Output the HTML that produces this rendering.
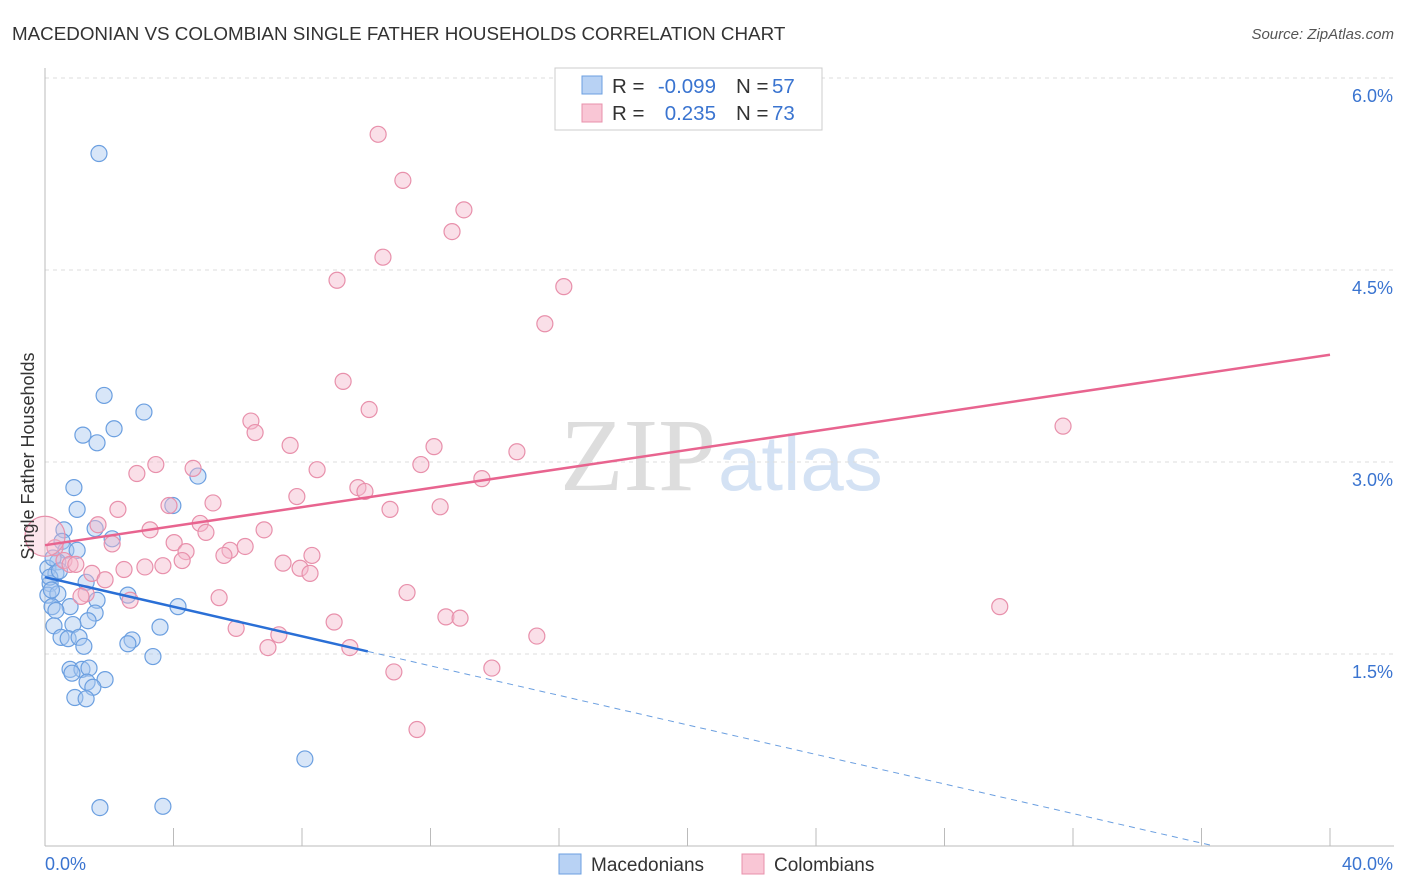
<!DOCTYPE html>
<html><head><meta charset="utf-8"><style>
body{margin:0;background:#fff;font-family:"Liberation Sans",sans-serif}
svg{display:block}
</style></head><body>
<svg id="chart" width="1406" height="892">
<text x="12" y="40" font-size="18.8" fill="#333">MACEDONIAN VS COLOMBIAN SINGLE FATHER HOUSEHOLDS CORRELATION CHART</text>
<text x="1394" y="39" font-size="15" fill="#555" font-style="italic" text-anchor="end">Source: ZipAtlas.com</text>
<text x="716" y="490" font-size="104" fill="#ddd" font-family="Liberation Serif,serif" text-anchor="end">ZIP</text>
<text x="718" y="490" font-size="78" fill="#d4e2f4">atlas</text>
<g id="grid"></g><g id="axes"></g><g id="pts"></g><g id="trends"></g>
<text transform="translate(34,456) rotate(-90)" font-size="18" fill="#333" text-anchor="middle">Single Father Households</text>
<g>
<rect x="555" y="68" width="267" height="62" fill="#fff" stroke="#ccc"/>
<rect x="582" y="76" width="20" height="18" fill="#b8d2f4" stroke="#6b9fe0"/>
<rect x="582" y="104" width="20" height="18" fill="#f9c6d5" stroke="#e890ab"/>
<g font-size="20.5">
<text x="612" y="93" fill="#333">R =</text>
<text x="716" y="93" fill="#3a74d0" text-anchor="end">-0.099</text>
<text x="736" y="93" fill="#333">N =</text>
<text x="772" y="93" fill="#3a74d0">57</text>
<text x="612" y="120" fill="#333">R =</text>
<text x="716" y="120" fill="#3a74d0" text-anchor="end">0.235</text>
<text x="736" y="120" fill="#333">N =</text>
<text x="772" y="120" fill="#3a74d0">73</text>
</g>
</g>
<g>
<rect x="559" y="854" width="22" height="20" fill="#b8d2f4" stroke="#6b9fe0"/>
<text x="591" y="871" font-size="19" fill="#333">Macedonians</text>
<rect x="742" y="854" width="22" height="20" fill="#f9c6d5" stroke="#e890ab"/>
<text x="774" y="871" font-size="19" fill="#333">Colombians</text>
</g>
</svg>
<script>
const yTicks=[1.5,3.0,4.5,6.0];
const xTickLabels=["0.0%","40.0%"];
const blueX=[1.68,1.84,3.08,1.18,2.15,1.62,0.90,4.76,3.98,1.00,0.59,1.56,2.09,0.53,0.65,1.00,0.40,0.09,0.34,0.16,1.28,0.09,0.40,2.58,1.62,0.22,0.78,4.14,1.56,0.34,1.34,0.28,0.87,3.58,0.50,0.72,1.06,1.21,2.71,2.58,3.36,0.78,1.15,1.37,0.84,1.87,1.31,1.49,0.93,1.28,8.09,1.71,3.67,0.15,0.25,0.45,0.20];
const blueY=[5.41,3.52,3.39,3.21,3.26,3.15,2.80,2.89,2.66,2.63,2.47,2.48,2.40,2.38,2.31,2.31,2.22,2.17,2.13,2.05,2.06,1.96,1.97,1.96,1.92,1.87,1.87,1.87,1.82,1.84,1.76,1.72,1.73,1.71,1.63,1.62,1.63,1.56,1.61,1.58,1.48,1.38,1.38,1.39,1.35,1.30,1.28,1.24,1.16,1.15,0.68,0.30,0.31,2.10,2.25,2.15,2.00];
const pinkX=[10.37,11.14,13.04,12.67,10.52,9.09,16.15,15.56,9.28,10.09,6.41,6.54,7.63,12.11,14.69,31.69,3.45,11.70,4.61,8.47,2.86,13.60,9.74,9.96,7.84,5.23,3.86,12.30,10.74,2.27,4.83,1.65,3.27,5.01,6.82,4.02,2.09,4.39,5.76,6.23,0.31,5.57,8.31,0.59,0.78,0.96,4.27,7.41,3.11,3.67,7.94,2.46,1.46,8.25,1.87,1.28,1.12,11.27,2.65,5.42,29.72,12.48,12.92,9.00,5.95,7.28,15.31,6.94,9.49,13.91,10.86,11.58,0.00];
const pinkY=[5.56,5.20,4.97,4.80,4.60,4.42,4.37,4.08,3.63,3.41,3.32,3.23,3.13,3.12,3.08,3.28,2.98,2.98,2.95,2.94,2.91,2.87,2.80,2.77,2.73,2.68,2.66,2.65,2.63,2.63,2.52,2.51,2.47,2.45,2.47,2.37,2.36,2.30,2.31,2.34,2.33,2.27,2.27,2.23,2.20,2.20,2.23,2.21,2.18,2.19,2.17,2.16,2.13,2.13,2.08,1.97,1.95,1.98,1.92,1.94,1.87,1.79,1.78,1.75,1.70,1.65,1.64,1.55,1.55,1.39,1.36,0.91,2.42];
const blueTrend=[2.10,-0.0577];
const pinkTrend=[2.35,0.0372];
const NS="http://www.w3.org/2000/svg";
const sx=v=>45+v/40*1285, sy=v=>846-v*128;
function mk(t,a,p){const e=document.createElementNS(NS,t);for(const k in a)e.setAttribute(k,a[k]);document.getElementById(p).appendChild(e);return e;}
yTicks.forEach(t=>{
 const l=mk('line',{x1:45,x2:1394,y1:sy(t),y2:sy(t),stroke:'#ddd','stroke-dasharray':'4,4'},'grid');
 
 
 const tx=mk('text',{x:1393,y:sy(t)+24,'font-size':18,fill:'#3a74d0','text-anchor':'end'},'grid');
 tx.textContent=t.toFixed(1)+'%';
 
 
});
const ya=mk('line',{x1:45,x2:45,y1:68,y2:846,stroke:'#bbb'},'axes');


const xa=mk('line',{x1:45,x2:1394,y1:846,y2:846,stroke:'#bbb'},'axes');


for(let i=0;i<=10;i++){const t=mk('line',{x1:sx(i*4),x2:sx(i*4),y1:828,y2:846,stroke:'#bbb'},'axes');
 
 }
[[45,'start',0],[1393,'end',1]].forEach(([x,a,i])=>{const t=mk('text',{x:x,y:870,'font-size':18,fill:'#3a74d0','text-anchor':a},'axes');t.textContent=xTickLabels[i];
 
 });
function pts(X,Y,f,s,n){X.forEach((x,i)=>{const big=(n==='colombian-point'&&x===0);const c=mk('circle',{cx:sx(x),cy:sy(Y[i]),r:big?20:8,fill:f,'fill-opacity':big?0.35:0.45,stroke:s,'stroke-width':1.2},'pts');
 
 });}
pts(blueX,blueY,'#a8c8f0','#6b9fe0','macedonian-point');
pts(pinkX,pinkY,'#f5b8cb','#e890ab','colombian-point');
const b1=mk('line',{x1:sx(0),y1:sy(blueTrend[0]),x2:sx(10.05),y2:sy(blueTrend[0]+blueTrend[1]*10.05),stroke:'#2a6fd6','stroke-width':2.5},'trends');


const xe=-blueTrend[0]/blueTrend[1];
const b2=mk('line',{x1:sx(10.05),y1:sy(blueTrend[0]+blueTrend[1]*10.05),x2:sx(xe),y2:sy(0),stroke:'#6b9fe0','stroke-width':1,'stroke-dasharray':'6,5'},'trends');


const p1=mk('line',{x1:sx(0),y1:sy(pinkTrend[0]),x2:sx(40),y2:sy(pinkTrend[0]+pinkTrend[1]*40),stroke:'#e8648f','stroke-width':2.5},'trends');


</script>
</body></html>
